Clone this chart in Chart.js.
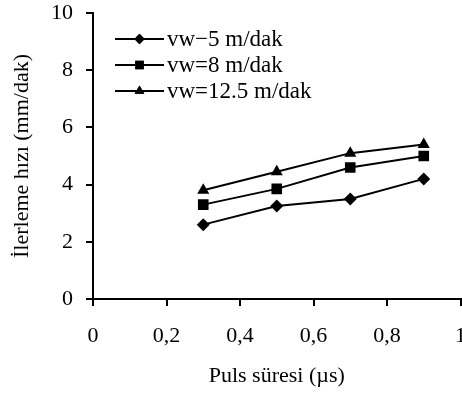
<!DOCTYPE html>
<html><head><meta charset="utf-8">
<script src="https://cdn.jsdelivr.net/npm/chart.js@4/dist/chart.umd.min.js"></script>
<style>html,body{margin:0;padding:0;background:#fff;overflow:hidden}#w{width:468px;height:398px;position:relative}</style>
</head><body><div id="w"><canvas id="c"></canvas></div>
<script>
const pulseDurations = [0.3, 0.5, 0.7, 0.9];
const seriesLabels = ['vw−5 m/dak', 'vw=8 m/dak', 'vw=12.5 m/dak'];
const vw5 = [2.6, 3.25, 3.5, 4.2];
const vw8 = [3.3, 3.85, 4.6, 5.0];
const vw125 = [3.8, 4.45, 5.1, 5.4];
const xTitle = 'Puls süresi (µs)';
const yTitle = 'İlerleme hızı (mm/dak)';

const FONT = 'Liberation Serif, Times New Roman, serif';
const pts = v => pulseDurations.map((x, i) => ({x: x, y: v[i]}));
const styles = [
  {pointStyle: 'rectRot', radius: 6.5},
  {pointStyle: 'rect', radius: 7.5},
  {pointStyle: 'triangle', radius: 7}
];
const seriesValues = [vw5, vw8, vw125];

const datasets = seriesValues.map((v, i) => ({
  label: seriesLabels[i],
  data: pts(v),
  borderColor: '#000',
  backgroundColor: '#000',
  borderWidth: 2,
  pointStyle: styles[i].pointStyle,
  pointRadius: styles[i].radius,
  pointBorderWidth: 0,
  pointBackgroundColor: '#000',
  tension: 0
}));

const legendPlugin = {
  id: 'lineLegend',
  afterDraw(chart) {
    const ctx = chart.ctx;
    const ca = chart.chartArea;
    const rows = [39, 65, 91];
    ctx.save();
    chart.data.datasets.forEach((ds, i) => {
      const y = rows[i];
      const x0 = ca.left + 22, x1 = ca.left + 71;
      ctx.strokeStyle = '#000';
      ctx.lineWidth = 2;
      ctx.beginPath(); ctx.moveTo(x0, y); ctx.lineTo(x1, y); ctx.stroke();
      ctx.fillStyle = '#000';
      ctx.beginPath();
      Chart.helpers.drawPoint(ctx, {pointStyle: ds.pointStyle, rotation: 0, borderWidth: 0, radius: ds.pointRadius * 0.8}, (x0 + x1) / 2, y);
      ctx.fill();
      ctx.font = '23px ' + FONT;
      ctx.textBaseline = 'middle';
      ctx.textAlign = 'left';
      ctx.fillStyle = '#000';
      ctx.fillText(ds.label, x1 + 3, y + 1);
    });
    ctx.restore();
  }
};

const fmt = v => String(Math.round(v * 10) / 10).replace('.', ',');

new Chart(document.getElementById('c'), {
  type: 'line',
  data: {datasets: datasets},
  options: {
    responsive: true,
    maintainAspectRatio: false,
    animation: false,
    layout: {padding: {left: 0, right: 1, top: 13, bottom: 0}},
    plugins: {legend: {display: false}, tooltip: {enabled: false}},
    scales: {
      x: {
        type: 'linear', min: 0, max: 1,
        grid: {display: true, drawOnChartArea: false, drawTicks: true, tickLength: 7, color: '#000', lineWidth: 2},
        border: {display: true, color: '#000', width: 2},
        ticks: {stepSize: 0.2, color: '#000', padding: 17, maxRotation: 0, font: {family: FONT, size: 22}, callback: fmt},
        title: {display: true, text: xTitle, color: '#000', font: {family: FONT, size: 22}, padding: {top: 0, bottom: 9}},
        afterFit(s) { s.height = 99; s.paddingLeft = 0; s.paddingRight = 0; }
      },
      y: {
        min: 0, max: 10,
        grid: {display: true, drawOnChartArea: false, drawTicks: true, tickLength: 7, color: '#000', lineWidth: 2},
        border: {display: true, color: '#000', width: 2},
        ticks: {stepSize: 2, color: '#000', padding: 13, font: {family: FONT, size: 22}, callback: fmt},
        title: {display: true, text: yTitle, color: '#000', font: {family: FONT, size: 22}, padding: {top: 9, bottom: 0}},
        afterFit(s) { s.width = 93; s.paddingTop = 0; s.paddingBottom = 0; }
      }
    }
  },
  plugins: [legendPlugin]
});
</script>
</body></html>
